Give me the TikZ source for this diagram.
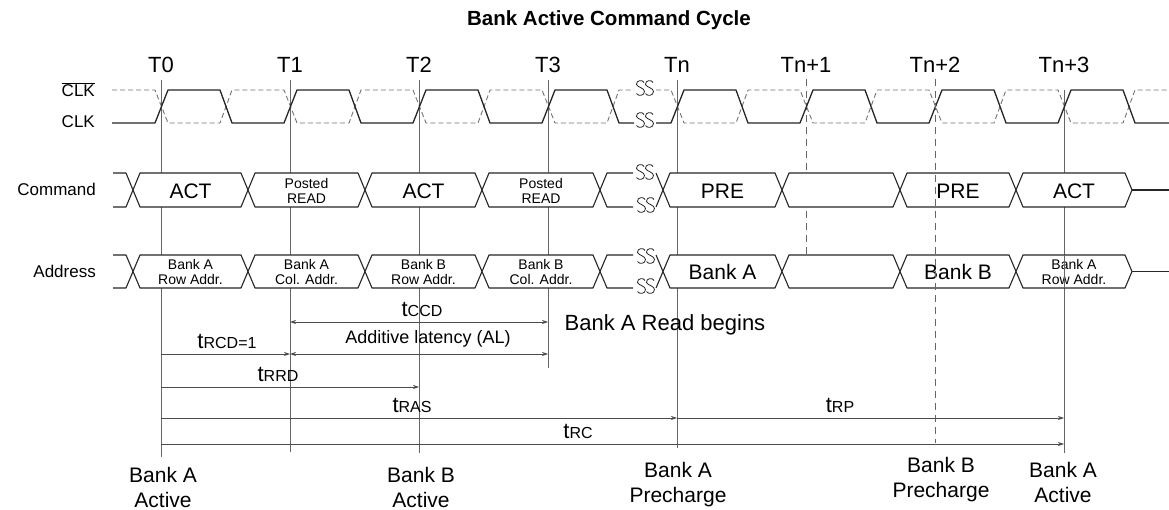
\documentclass[tikz,border=0pt]{standalone}
\usepackage{fontspec}
\setmainfont{Liberation Sans}
\usetikzlibrary{arrows.meta}
\newcommand\myfs[1]{\fontsize{#1}{#1}\selectfont}
\newcommand\tsub[1]{{\myfs{22}t}{\myfs{16}#1}}
\begin{document}
\begin{tikzpicture}[x=1pt,y=-1pt,
  sig/.style={line width=1.3pt, black!85, line join=round},
  sigd/.style={line width=0.9pt, black!55, dash pattern=on 5pt off 3pt},
  vline/.style={line width=0.9pt, black!60},
  vdash/.style={line width=0.9pt, black!60, dash pattern=on 7pt off 5pt},
  cell/.style={line width=1.1pt, black!85, fill=white, line join=round},
  lead/.style={line width=1.1pt, black!85, line join=round},
  arr/.style={line width=0.8pt, black!70, -{Stealth[length=6pt,width=4pt]}},
  darr/.style={line width=0.8pt, black!70, {Stealth[length=6pt,width=4pt]}-{Stealth[length=6pt,width=4pt]}},
  lbl/.style={font=\myfs{17}, anchor=east, inner sep=0pt},
  big/.style={font=\myfs{21}, inner sep=0pt},
  sm/.style={font=\fontsize{14}{15.5}\selectfont, align=center, inner sep=0pt},
  tl/.style={font=\myfs{22}, inner sep=0pt},
  bot/.style={font=\fontsize{21}{25}\selectfont, align=center, inner sep=0pt},
  brk/.pic={
    \foreach \dx in {-4.5,4.5}{
      \draw[line width=0.8pt, black!85, xshift=\dx pt]
        (3.5,-5.5) .. controls (2.5,-8.5) and (-4.5,-8) .. (-4,-3.5)
        .. controls (-3.5,-1) and (4,0) .. (4,3.5)
        .. controls (4,8) and (-2.5,8.5) .. (-4,5.5);
    }
  }
]
\useasboundingbox[fill=white] (0,0) rectangle (1169,510);

% title
\node[font=\bfseries\myfs{20.5}, inner sep=0pt] (title) at (609,20) {Bank Active Command Cycle};

% time labels
\foreach \x/\n/\t in {161/T0/T0,290/T1/T1,419/T2/T2,548/T3/T3,677/Tn/Tn,806/Tn1/Tn+1,935/Tn2/Tn+2,1064/Tn3/Tn+3}
  \node[tl] (lab\n) at (\x,65) {\t};

% left labels
\node[lbl] (lclkb) at (95,90) {$\overline{\mbox{CLK}}$};
\node[lbl] (lclk) at (95,122) {CLK};
\node[lbl] (lcmd) at (96,189) {Command};
\node[lbl] (ladr) at (96,271) {Address};

% vertical time lines (behind cells)
\draw[vline] (161,80) -- (161,457);
\draw[vline] (290,80) -- (290,452);
\draw[vline] (419,80) -- (419,453);
\draw[vline] (548,80) -- (548,368);
\draw[vline] (677,80) -- (677,448);
\draw[vdash] (806,79) -- (806,255);
\draw[vline] (1064,90) -- (1064,453);

% clocks
\draw[sigd] (112,90) foreach \t in {161,290,419,548}{ -- (\t-6,90) -- (\t+7,123) -- (\t+59,123) -- (\t+71,90) } -- (634,90);
\draw[sigd] (656,90) foreach \t in {677,806,935,1064}{ -- (\t-6,90) -- (\t+7,123) -- (\t+59,123) -- (\t+71,90) } -- (1169,90);
\draw[sig] (112,123) foreach \t in {161,290,419,548}{ -- (\t-6,123) -- (\t+7,90) -- (\t+59,90) -- (\t+71,123) } -- (634,123);
\draw[sig] (656,123) foreach \t in {677,806,935,1064}{ -- (\t-6,123) -- (\t+7,90) -- (\t+59,90) -- (\t+71,123) } -- (1169,123);
\pic at (645,88) {brk};
\pic at (645,120) {brk};

% command row
\draw[lead] (113,173) -- (126,173) -- (133,190) -- (126,207) -- (113,207);
\draw[lead] (633,173) -- (607,173) -- (600,190) -- (607,207) -- (633,207);
\draw[lead] (656,173) -- (663,190) -- (656,207);
\draw[lead] (1132,190) -- (1169,190);
\foreach \a/\b/\txt/\f [count=\i] in {133/248/ACT/big, 248/365/{Posted\\READ}/sm, 365/482/ACT/big, 482/600/{Posted\\READ}/sm, 663/782/PRE/big, 782/900/{}/big, 900/1016/PRE/big, 1016/1132/ACT/big}{
  \draw[cell] (\a,190) -- (\a+7,173) -- (\b-7,173) -- (\b,190) -- (\b-7,207) -- (\a+7,207) -- cycle;
  \node[\f] (cmd\i) at ({(\a+\b)/2},191) {\txt};
}
\pic at (645,172) {brk};
\pic at (646,205) {brk};

% address row
\draw[lead] (113,255) -- (126,255) -- (133,271.5) -- (126,288) -- (113,288);
\draw[lead] (633,255) -- (607,255) -- (600,271.5) -- (607,288) -- (633,288);
\draw[lead] (656,255) -- (663,271.5) -- (656,288);
\draw[lead] (1132,271.5) -- (1169,271.5);
\foreach \a/\b/\txt/\f [count=\i] in {133/248/{Bank A\\Row Addr.}/sm, 248/365/{Bank A\\Col. Addr.}/sm, 365/482/{Bank B\\Row Addr.}/sm, 482/600/{Bank B\\Col. Addr.}/sm, 663/782/{Bank A}/big, 782/900/{}/big, 900/1016/{Bank B}/big, 1016/1132/{Bank A\\Row Addr.}/sm}{
  \draw[cell] (\a,271.5) -- (\a+7,255) -- (\b-7,255) -- (\b,271.5) -- (\b-7,288) -- (\a+7,288) -- cycle;
  \node[\f] (adr\i) at ({(\a+\b)/2},272) {\txt};
}
\pic at (646,256) {brk};
\pic at (646,286) {brk};

% lines drawn over the cells
\draw[vdash] (935,79) -- (935,443);
\draw[vline] (1064,255) -- (1064,288);

% timing arrows
\coordinate (ccdA) at (290,322);  \coordinate (ccdB) at (548,322);
\coordinate (rcdA) at (161,354);  \coordinate (rcdB) at (290,354);
\coordinate (alB) at (548,354);
\coordinate (rrdA) at (161,387);  \coordinate (rrdB) at (419,387);
\coordinate (rasA) at (161,418);  \coordinate (rasB) at (677,418);
\coordinate (rpB) at (1064,418);
\coordinate (rcA) at (161,444);   \coordinate (rcB) at (1064,444);
\draw[darr] (ccdA) -- (ccdB);
\draw[arr] (rcdA) -- (rcdB);
\draw[darr] (rcdB) -- (alB);
\draw[arr] (rrdA) -- (rrdB);
\draw[arr] (rasA) -- (rasB);
\draw[arr] (rasB) -- (rpB);
\draw[arr] (rcA) -- (rcB);

\node[inner sep=0pt] (tccd) at (422,309) {\tsub{CCD}};
\node[inner sep=0pt, font=\myfs{18}] (al) at (428,339) {Additive latency (AL)};
\node[inner sep=0pt] (trcd) at (227,341) {\tsub{RCD=1}};
\node[inner sep=0pt] (trrd) at (278,374) {\tsub{RRD}};
\node[inner sep=0pt] (tras) at (412,405) {\tsub{RAS}};
\node[inner sep=0pt] (trp) at (840,405) {\tsub{RP}};
\node[inner sep=0pt] (trc) at (578,431) {\tsub{RC}};
\node[inner sep=0pt, font=\myfs{22}] (readb) at (665,325) {Bank A Read begins};

% bottom labels
\node[bot] (bAact) at (163,487) {Bank A\\Active};
\node[bot] (bBact) at (421,487) {Bank B\\Active};
\node[bot] (bApre) at (678,485) {Bank A\\Precharge};
\node[bot] (bBpre) at (941,480) {Bank B\\Precharge};
\node[bot] (bAact2) at (1063,482) {Bank A\\Active};
\end{tikzpicture}
\end{document}
